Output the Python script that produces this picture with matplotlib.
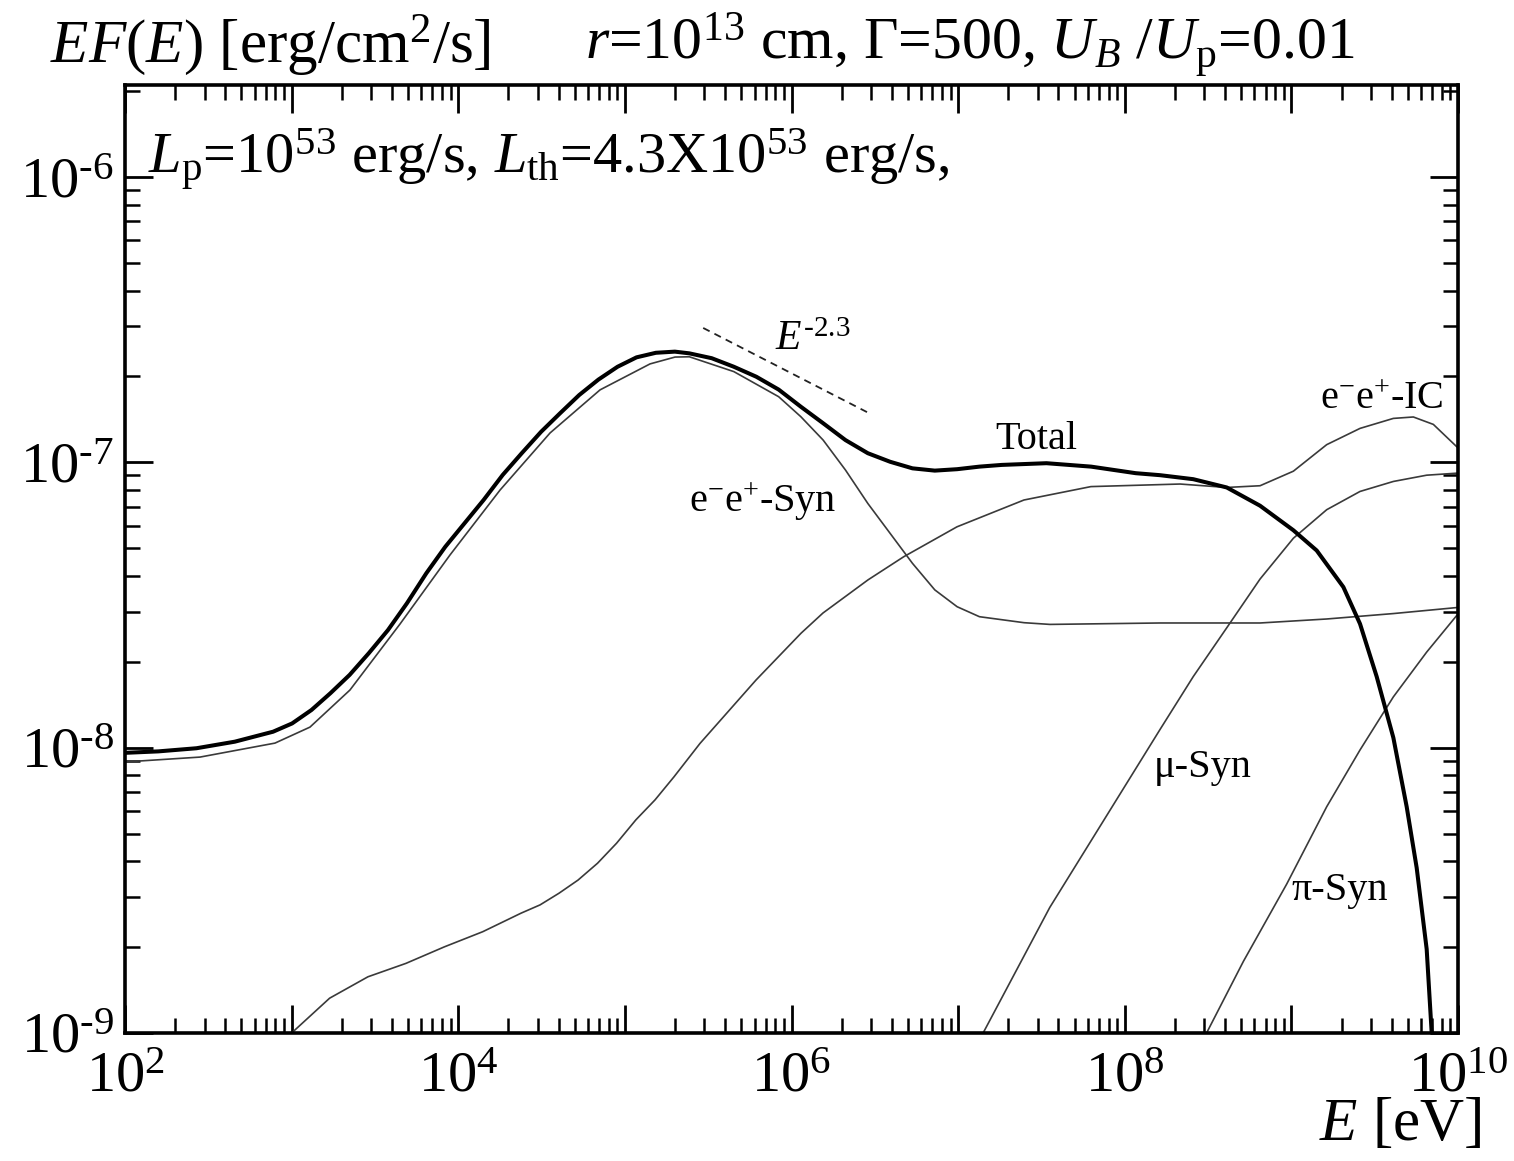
import numpy as np
import matplotlib
matplotlib.use("Agg")
import matplotlib.pyplot as plt
from matplotlib.ticker import LogLocator, NullFormatter, FixedLocator, FixedFormatter

plt.rcParams["font.family"] = ["Liberation Serif", "DejaVu Serif"]
plt.rcParams["mathtext.fontset"] = "custom"
plt.rcParams["mathtext.rm"] = "Liberation Serif"
plt.rcParams["mathtext.it"] = "Liberation Serif:italic"
plt.rcParams["mathtext.bf"] = "Liberation Serif:bold"

# ---- spectra: log10(E/eV) and log10(EF(E) / erg cm^-2 s^-1) ----
total_logE = [2.004, 2.200, 2.429, 2.659, 2.889, 3.003, 3.119, 3.233, 3.348, 3.463,
              3.578, 3.692, 3.808, 3.922, 4.037, 4.152, 4.267, 4.381, 4.497, 4.611,
              4.726, 4.841, 4.956, 5.070, 5.186, 5.300, 5.387, 5.521, 5.654, 5.789,
              5.923, 6.056, 6.190, 6.324, 6.458, 6.592, 6.726, 6.860, 6.994, 7.128,
              7.262, 7.530, 7.798, 8.066, 8.212, 8.411, 8.612, 8.812, 9.012, 9.152,
              9.312, 9.412, 9.512, 9.612, 9.692, 9.752, 9.812, 9.842]
total_logF = [-8.018, -8.013, -8.002, -7.979, -7.944, -7.915, -7.868, -7.809, -7.745, -7.669,
              -7.588, -7.494, -7.389, -7.296, -7.214, -7.132, -7.044, -6.968, -6.893, -6.828,
              -6.764, -6.710, -6.665, -6.632, -6.616, -6.612, -6.618, -6.635, -6.665, -6.700,
              -6.745, -6.805, -6.863, -6.922, -6.968, -6.998, -7.021, -7.029, -7.024, -7.015,
              -7.009, -7.003, -7.015, -7.038, -7.045, -7.059, -7.088, -7.152, -7.238, -7.309,
              -7.437, -7.566, -7.751, -7.965, -8.207, -8.421, -8.706, -8.999]

syn_logE = [2.000, 2.450, 2.900, 3.110, 3.350, 3.650, 3.950, 4.251, 4.551, 4.851,
            5.151, 5.301, 5.387, 5.654, 5.923, 6.056, 6.190, 6.324, 6.458, 6.592,
            6.726, 6.860, 6.994, 7.128, 7.396, 7.551, 8.212, 8.812, 9.212, 9.612,
            9.992]
syn_logF = [-8.050, -8.033, -7.984, -7.928, -7.798, -7.567, -7.325, -7.097, -6.897, -6.746,
            -6.655, -6.631, -6.630, -6.682, -6.770, -6.840, -6.922, -7.027, -7.144, -7.249,
            -7.354, -7.447, -7.506, -7.541, -7.562, -7.568, -7.563, -7.563, -7.549, -7.530,
            -7.509]

ic_logE = [3.000, 3.228, 3.458, 3.686, 3.917, 4.147, 4.377, 4.491, 4.605, 4.719,
           4.836, 4.950, 5.066, 5.181, 5.295, 5.451, 5.787, 6.057, 6.189, 6.459,
           6.673, 6.993, 7.395, 7.797, 8.332, 8.612, 8.812, 9.012, 9.212, 9.412,
           9.612, 9.732, 9.852, 9.992]
ic_logF = [-9.000, -8.878, -8.803, -8.756, -8.698, -8.645, -8.580, -8.551, -8.510, -8.464,
           -8.405, -8.335, -8.253, -8.183, -8.102, -7.985, -7.763, -7.599, -7.528, -7.412,
           -7.331, -7.226, -7.132, -7.085, -7.076, -7.088, -7.082, -7.031, -6.938, -6.881,
           -6.846, -6.841, -6.867, -6.945]

mu_logE = [7.15, 7.55, 8.212, 8.411, 8.612, 8.812, 9.012, 9.212, 9.412, 9.612, 9.812, 9.992]
mu_logF = [-9.000, -8.560, -7.936, -7.751, -7.580, -7.409, -7.266, -7.166, -7.102, -7.067,
           -7.045, -7.038]

pi_logE = [8.492, 8.712, 8.972, 9.212, 9.412, 9.612, 9.812, 9.992]
pi_logF = [-8.999, -8.749, -8.478, -8.207, -8.008, -7.822, -7.665, -7.537]

# power-law guide: photon index 2.3, i.e. EF(E) ~ E^(-2.3+2)
guide_index = -2.3
guide_logE = [5.47, 6.46]
guide_anchor_logF = -6.529

fig = plt.figure(figsize=(15.14, 11.61), dpi=100)
ax = fig.add_axes([125 / 1514, 1 - 1033 / 1161, (1458 - 125) / 1514, (1033 - 85) / 1161])

thin = dict(color="#3a3a3a", lw=1.2, solid_joinstyle="round")
ax.plot(10 ** np.array(syn_logE), 10 ** np.array(syn_logF), **thin)
ax.plot(10 ** np.array(ic_logE), 10 ** np.array(ic_logF), **thin)
ax.plot(10 ** np.array(mu_logE), 10 ** np.array(mu_logF), **thin)
ax.plot(10 ** np.array(pi_logE), 10 ** np.array(pi_logF), **thin)
ax.plot(10 ** np.array(total_logE), 10 ** np.array(total_logF), color="black", lw=2.9,
        solid_capstyle="round", solid_joinstyle="round")

gE = 10 ** np.array(guide_logE)
gF = 10 ** guide_anchor_logF * (gE / gE[0]) ** (guide_index + 2)
ax.plot(gE, gF, color="#222222", lw=1.3, ls=(0, (4, 3)))

ax.set_xscale("log")
ax.set_yscale("log")
ax.set_xlim(1e2, 1e10)
ax.set_ylim(1e-9, 10 ** -5.6775)

# ticks
ax.xaxis.set_major_locator(FixedLocator([10.0 ** k for k in range(2, 11)]))
ax.xaxis.set_major_formatter(FixedFormatter(
    [r"$10^{%d}$" % k if k % 2 == 0 else "" for k in range(2, 11)]))
ax.xaxis.set_minor_locator(LogLocator(base=10, subs=np.arange(2, 10), numticks=100))
ax.xaxis.set_minor_formatter(NullFormatter())
ax.yaxis.set_major_locator(FixedLocator([10.0 ** k for k in range(-9, -5)]))
ax.yaxis.set_major_formatter(FixedFormatter([r"$10^{\text{-}%d}$" % -k for k in range(-9, -5)]))
ax.yaxis.set_minor_locator(LogLocator(base=10, subs=np.arange(2, 10), numticks=100))
ax.yaxis.set_minor_formatter(NullFormatter())

ax.tick_params(which="both", direction="in", top=True, right=True, color="black")
ax.tick_params(which="major", length=20, width=2.0, labelsize=42, pad=8)
ax.tick_params(which="minor", length=11, width=1.8)
ax.tick_params(axis="x", which="major", pad=13)
for s in ax.spines.values():
    s.set_linewidth(2.6)

# curve labels
lab = dict(fontsize=29, ha="center", va="center", color="black")
ax.text(10 ** 7.47, 10 ** -6.92, "Total", **lab)
ax.text(10 ** 5.83, 10 ** -7.14, r"e$^{-}$e$^{+}$-Syn", **lab)
ax.text(10 ** 9.54, 10 ** -6.78, r"e$^{-}$e$^{+}$-IC", **lab)
ax.text(10 ** 8.47, 10 ** -8.07, "μ-Syn", **lab)
ax.text(10 ** 9.29, 10 ** -8.50, "π-Syn", **lab)
ax.text(10 ** 6.13, 10 ** -6.57, r"$E^{\text{-}2.3}$", fontsize=30, ha="center", va="center")

# header and axis titles
fig.text(50 / 1514, 1 - 45 / 1161, r"$EF$($E$) [erg/cm$^2$/s]", fontsize=44,
         ha="left", va="center")
fig.text(585 / 1514, 1 - 45 / 1161, r"$r$=10$^{13}$ cm, Γ=500, $U_B$ /$U_{\rm p}$=0.01",
         fontsize=43, ha="left", va="center")
ax.text(148 / 1514, 1 - 160 / 1161,
        r"$L_{\rm p}$=10$^{53}$ erg/s, $L_{\rm th}$=4.3X10$^{53}$ erg/s,",
        transform=fig.transFigure, fontsize=42, ha="left", va="center")
fig.text(1400 / 1514, 1 - 1125 / 1161, r"$E$ [eV]", fontsize=44, ha="center", va="center")

fig.savefig("out.png", dpi=100)
